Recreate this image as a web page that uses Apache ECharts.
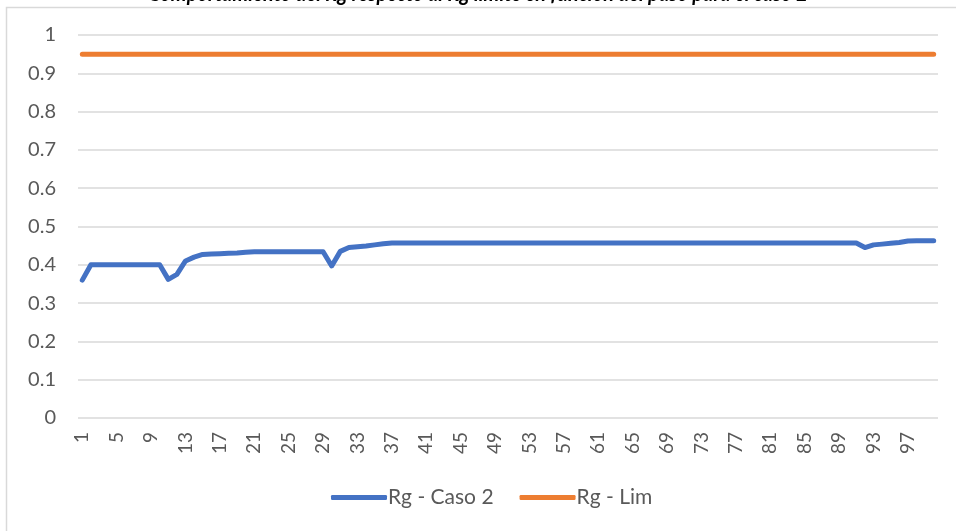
<!DOCTYPE html>
<html>
<head>
<meta charset="utf-8">
<script src="https://cdn.jsdelivr.net/npm/echarts@6/dist/echarts.min.js"></script>
<style>
  html, body { margin: 0; padding: 0; background: #fff; }
  #chart { width: 956px; height: 531px; }
</style>
</head>
<body>
<div id="chart"></div>
<script>
// categorias 1..100
var categories = [];
for (var i = 1; i <= 100; i++) categories.push(String(i));

// Rg - Caso 2
var rgCaso2 = [
  0.360, 0.400, 0.400, 0.400, 0.400, 0.400, 0.400, 0.400, 0.400, 0.400,
  0.362, 0.375, 0.410, 0.420, 0.427, 0.428, 0.429, 0.430, 0.431, 0.433,
  0.434, 0.434, 0.434, 0.434, 0.434, 0.434, 0.434, 0.434, 0.434, 0.397,
  0.435, 0.445, 0.447, 0.449, 0.452, 0.455, 0.457, 0.457, 0.457, 0.457,
  0.457, 0.457, 0.457, 0.457, 0.457, 0.457, 0.457, 0.457, 0.457, 0.457,
  0.457, 0.457, 0.457, 0.457, 0.457, 0.457, 0.457, 0.457, 0.457, 0.457,
  0.457, 0.457, 0.457, 0.457, 0.457, 0.457, 0.457, 0.457, 0.457, 0.457,
  0.457, 0.457, 0.457, 0.457, 0.457, 0.457, 0.457, 0.457, 0.457, 0.457,
  0.457, 0.457, 0.457, 0.457, 0.457, 0.457, 0.457, 0.457, 0.457, 0.457,
  0.457, 0.445, 0.452, 0.454, 0.456, 0.458, 0.462, 0.463, 0.463, 0.463
];

// Rg - Lim
var rgLim = [];
for (var j = 0; j < 100; j++) rgLim.push(0.95);

var myChart = echarts.init(document.getElementById("chart"));

var option = {
  animation: false,
  textStyle: { fontFamily: "Lato" },
  title: {
    // el titulo queda cortado por el borde superior, como en la imagen
    text: "Comportamiento del Rg respecto al Rg límite en función del paso para el caso 2",
    left: "center",
    top: -20,
    textStyle: {
      fontFamily: "Lato",
      fontSize: 20,
      fontWeight: "bold",
      fontStyle: "italic",
      color: "#000"
    }
  },
  graphic: [
    {
      type: "rect",
      left: 4,
      top: 5,
      shape: { width: 1000, height: 1000 },
      style: { fill: "none", stroke: "#d9d9d9", lineWidth: 1.5 },
      silent: true
    }
  ],
  grid: {
    left: 78,
    right: 18,
    top: 35,
    bottom: 113
  },
  legend: {
    top: 482,
    left: 326,
    itemWidth: 56,
    itemHeight: 5,
    itemGap: 26,
    icon: "roundRect",
    textStyle: { fontFamily: "Lato", fontSize: 21, color: "#595959", padding: [0, 0, 0, -4] },
    data: ["Rg - Caso 2", "Rg - Lim"]
  },
  xAxis: {
    type: "category",
    data: categories,
    boundaryGap: true,
    axisLine: { show: false },
    axisTick: { show: false },
    axisLabel: {
      interval: 3,
      rotate: 90,
      margin: 14,
      fontFamily: "Lato",
      fontSize: 19,
      color: "#595959"
    }
  },
  yAxis: {
    type: "value",
    min: 0,
    max: 1,
    interval: 0.1,
    axisLine: { show: false },
    axisTick: { show: false },
    splitLine: { lineStyle: { color: "#d9d9d9", width: 1.5 } },
    axisLabel: {
      margin: 22,
      fontFamily: "Lato",
      fontSize: 20,
      color: "#595959",
      formatter: function (v) {
        return String(Math.round(v * 10) / 10);
      }
    }
  },
  series: [
    {
      name: "Rg - Caso 2",
      type: "line",
      data: rgCaso2,
      symbol: "none",
      itemStyle: { color: "#4472c4" },
      lineStyle: { color: "#4472c4", width: 5, cap: "round", join: "round" }
    },
    {
      name: "Rg - Lim",
      type: "line",
      data: rgLim,
      symbol: "none",
      itemStyle: { color: "#ed7d31" },
      lineStyle: { color: "#ed7d31", width: 5, cap: "round" }
    }
  ]
};

myChart.setOption(option);
</script>
</body>
</html>
